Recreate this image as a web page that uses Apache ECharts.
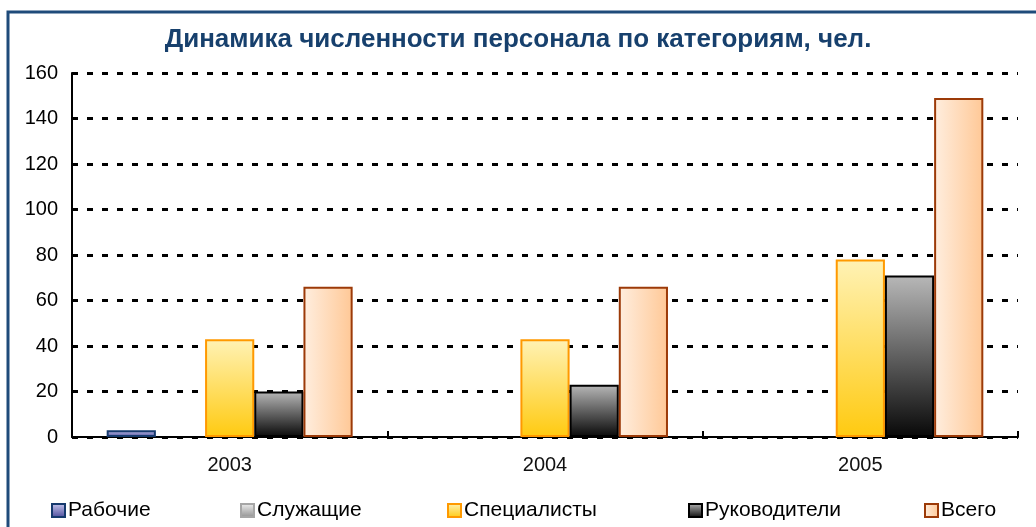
<!DOCTYPE html>
<html>
<head>
<meta charset="utf-8">
<script src="https://cdn.jsdelivr.net/npm/echarts@6/dist/echarts.min.js"></script>
<style>
  html, body { margin: 0; padding: 0; background: #fff; }
  #chart { width: 1036px; height: 527px; }
</style>
</head>
<body>
<div id="chart"></div>
<script>
// data
const years = ["2003", "2004", "2005"];
const seriesNames = ["Рабочие", "Служащие", "Специалисты", "Руководители", "Всего"];
const workers = [3, 0, 0];
const employees = [0, 0, 0];
const specialists = [43, 43, 78];
const managers = [20, 23, 71];
const total = [66, 66, 149];
const yTicks = { min: 0, max: 160, step: 20 };

const FONT = "Liberation Sans, Arial, sans-serif";

const vGrad = (top, bottom) =>
  new echarts.graphic.LinearGradient(0, 0, 0, 1, [
    { offset: 0, color: top },
    { offset: 1, color: bottom }
  ]);
const hGrad = (left, right) =>
  new echarts.graphic.LinearGradient(0, 0, 1, 0, [
    { offset: 0, color: left },
    { offset: 1, color: right }
  ]);

const styles = [
  { color: vGrad("#cacaf0", "#4a4a9a"), borderColor: "#163a6e" },
  { color: vGrad("#f2f2f2", "#8e8e8e"), borderColor: "#a6a6a6" },
  { color: vGrad("#fff2b5", "#ffca10"), borderColor: "#ff9900" },
  { color: vGrad("#b8b8b8", "#080808"), borderColor: "#000000" },
  { color: hGrad("#ffeedf", "#ffc896"), borderColor: "#9c3a08" }
];
const values = [workers, employees, specialists, managers, total];

// legend items are spread along the bottom like in the original
const legendLeft = [51, 240, 447, 688, 924];

const chart = echarts.init(document.getElementById("chart"), null, { renderer: "canvas" });

chart.setOption({
  backgroundColor: "#ffffff",
  animation: false,
  title: {
    text: "Динамика численности персонала по категориям, чел.",
    left: "center",
    top: 22,
    textStyle: {
      fontFamily: FONT,
      fontSize: 26,
      fontWeight: "bold",
      color: "#17406d"
    }
  },
  graphic: [
    {
      type: "rect",
      shape: { x: 8, y: 12, width: 1040, height: 530 },
      style: { fill: "none", stroke: "#1f4b7a", lineWidth: 3 },
      silent: true
    }
  ],
  legend: seriesNames.map((name, i) => ({
    top: 500,
    left: legendLeft[i],
    padding: 0,
    itemWidth: 13,
    itemHeight: 13,
    icon: "rect",
    textStyle: { fontFamily: FONT, fontSize: 21, color: "#000", padding: [0, 0, 0, -2] },
    data: [name]
  })),
  grid: { left: 72, right: 18, top: 73, bottom: 90 },
  xAxis: {
    type: "category",
    data: years,
    axisLine: { lineStyle: { color: "#000", width: 2 } },
    axisTick: { show: true, inside: true, length: 6, lineStyle: { color: "#000", width: 2 } },
    axisLabel: {
      margin: 18,
      fontFamily: FONT,
      fontSize: 20,
      color: "#111"
    },
    splitLine: { show: false }
  },
  yAxis: {
    type: "value",
    min: yTicks.min,
    max: yTicks.max,
    interval: yTicks.step,
    axisLine: { show: true, lineStyle: { color: "#000", width: 2 } },
    axisTick: { show: true, inside: true, length: 6, lineStyle: { color: "#000", width: 2 } },
    axisLabel: {
      margin: 14,
      fontFamily: FONT,
      fontSize: 20,
      color: "#000"
    },
    splitLine: {
      show: true,
      lineStyle: { color: "#000", width: 3, type: [6, 9] }
    }
  },
  series: seriesNames.map((name, i) => ({
    name: name,
    type: "bar",
    // zero bars are not drawn in the original
    data: values[i].map(v => (v === 0 ? "-" : v)),
    barGap: "0%",
    barCategoryGap: "22%",
    itemStyle: {
      color: styles[i].color,
      borderColor: styles[i].borderColor,
      borderWidth: 2
    }
  }))
});
</script>
</body>
</html>
